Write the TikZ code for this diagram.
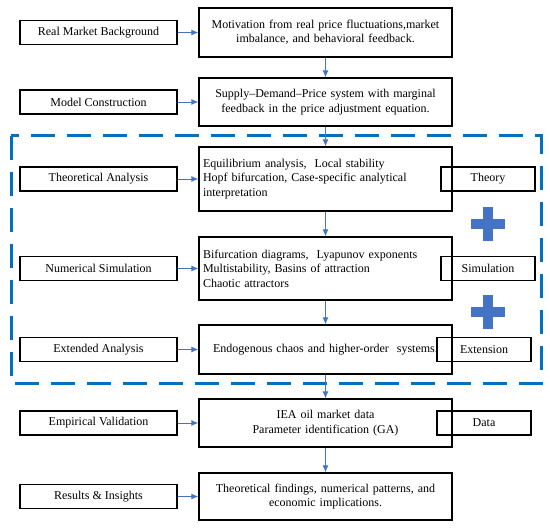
\documentclass[tikz,border=0pt]{standalone}
\usepackage{fontspec}
\setmainfont{Liberation Serif}
\usetikzlibrary{arrows.meta}
\definecolor{arrowblue}{HTML}{4472C4}
\definecolor{dashblue}{HTML}{0070C0}
\definecolor{plusblue}{HTML}{4472C4}
\begin{document}
\begin{tikzpicture}[x=1pt,y=-1pt,
  txt/.style={font=\fontsize{12}{14.4}\selectfont},
  leftbox/.style={txt, draw, line width=1.3pt, minimum width=157pt, minimum height=24pt, inner sep=0pt},
  midbox/.style={txt, draw, line width=1.3pt, minimum width=253pt, text width=245pt, inner xsep=4pt, inner ysep=0pt, align=center},
  midleft/.style={midbox, align=left},
  rightbox/.style={txt, draw, line width=1.3pt, minimum width=94pt, minimum height=24pt, inner sep=0pt},
  flow/.style={arrowblue, line width=0.9pt, -{Latex[length=7pt,width=6pt]}},
  plusbar/.style={fill=plusblue, draw=none}
]
\useasboundingbox (0,0) rectangle (550,529);

% dashed frame
\draw[dashblue, line width=3pt, dash pattern=on 24pt off 12pt] (11,136) rectangle (541,384);

% center boxes
\node[midbox, minimum height=49pt] (m1) at (325.5,32.5) {Motivation from real price fluctuations,market\\imbalance, and behavioral feedback.};
\node[midbox, minimum height=48pt] (m2) at (325.5,102) {Supply–Demand–Price system with marginal\\feedback in the price adjustment equation.};
\node[midleft, minimum height=64pt] (m3) at (325.5,179) {Equilibrium analysis,~ Local stability\\Hopf bifurcation, Case-specific analytical\\interpretation};
\node[midleft, minimum height=63pt] (m4) at (325.5,268.5) {Bifurcation diagrams,~ Lyapunov exponents\\Multistability, Basins of attraction\\Chaotic attractors};
\node[midbox, minimum height=49pt] (m5) at (325.5,349.5) {Endogenous chaos and higher-order~ systems.};
\node[midbox, minimum height=48pt] (m6) at (325.5,423) {IEA oil market data\\Parameter identification (GA)};
\node[midbox, minimum height=47pt] (m7) at (325.5,496.5) {Theoretical findings, numerical patterns, and\\economic implications.};

% left boxes
\node[leftbox] (l1) at (98.5,32.5) {Real Market Background};
\node[leftbox] (l2) at (98.5,102) {Model Construction};
\node[leftbox] (l3) at (98.5,179) {Theoretical Analysis};
\node[leftbox] (l4) at (98.5,268.5) {Numerical Simulation};
\node[leftbox] (l5) at (98.5,349.5) {Extended Analysis};
\node[leftbox] (l6) at (98.5,423) {Empirical Validation};
\node[leftbox] (l7) at (98.5,496.5) {Results \& Insights};

% right boxes
\node[rightbox] (r3) at (488,179) {Theory};
\node[rightbox] (r4) at (488,268.5) {Simulation};
\node[rightbox] (r5) at (484,349.5) {Extension};
\node[rightbox] (r6) at (484,423) {Data};

% plus signs
\fill[plusbar] (470.5,219.5) rectangle (504.5,229.5);
\fill[plusbar] (482.5,207.5) rectangle (492.5,241.5);
\fill[plusbar] (470.5,307.5) rectangle (504.5,317.5);
\fill[plusbar] (482.5,295.5) rectangle (492.5,329.5);

% horizontal arrows
\foreach \i in {1,...,7} {\draw[flow] (l\i.east) -- (m\i.west);}
% vertical arrows
\foreach \i/\j in {1/2,2/3,3/4,4/5,5/6,6/7} {\draw[flow] (m\i.south) -- (m\j.north);}
\end{tikzpicture}
\end{document}
